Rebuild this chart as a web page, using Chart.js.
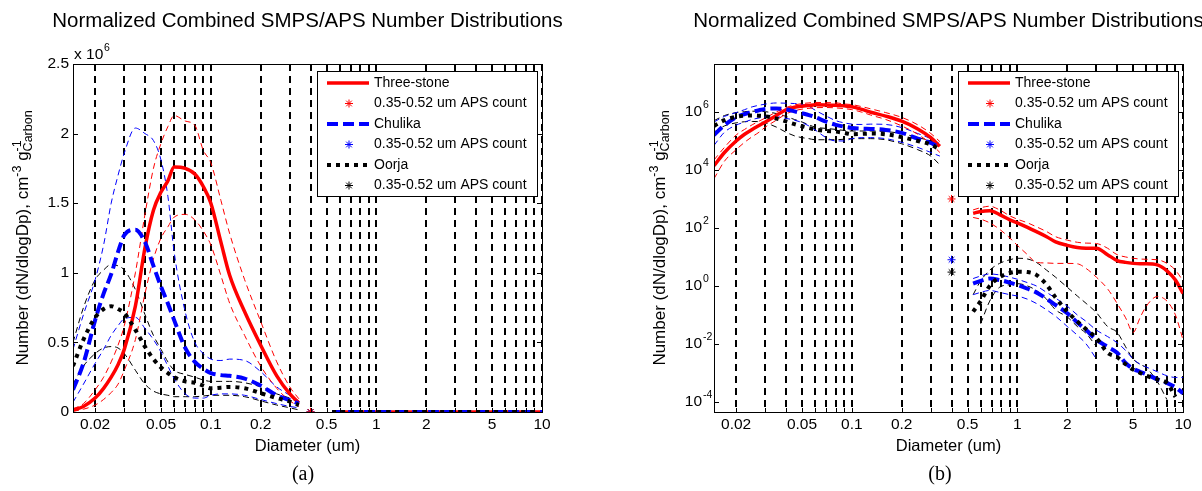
<!DOCTYPE html>
<html>
<head>
<meta charset="utf-8">
<script src="https://cdn.jsdelivr.net/npm/chart.js@4.4.1/dist/chart.umd.min.js"></script>
<style>
  html, body { margin: 0; padding: 0; background: #fff; }
  #wrap { position: relative; width: 1202px; height: 491px; }
  canvas { position: absolute; top: 0; }
</style>
</head>
<body>
<div id="wrap">
  <canvas id="panel-a" width="601" height="491" style="left:0"></canvas>
  <canvas id="panel-b" width="601" height="491" style="left:601px"></canvas>
</div>
<script>
// ---- data (diameters in um, counts in dN/dlogDp per g carbon) ----
const smpsDiam = [0.0147, 0.017, 0.02, 0.0225, 0.025, 0.0275, 0.03, 0.035, 0.04, 0.045, 0.05, 0.055,
                  0.06, 0.07, 0.08, 0.09, 0.1, 0.115, 0.13, 0.16, 0.2, 0.25, 0.3, 0.34];
const apsDiam = [0.54, 0.6, 0.68, 0.78, 0.9, 1.0, 1.15, 1.3, 1.5, 1.7, 2.0, 2.3,
                 2.6, 3.0, 3.5, 4.0, 4.5, 5.0, 5.5, 6.0, 7.0, 8.0, 9.0, 10];

// Three-stone
const threeStoneSmps   = [0.014e6, 0.04e6, 0.10e6, 0.17e6, 0.25e6, 0.34e6, 0.45e6, 0.76e6, 1.18e6, 1.45e6, 1.58e6, 1.66e6,
                          1.76e6, 1.75e6, 1.71e6, 1.62e6, 1.50e6, 1.22e6, 0.98e6, 0.72e6, 0.48e6, 0.26e6, 0.13e6, 0.065e6];
const threeStoneSmpsHi = [0.022e6, 0.06e6, 0.16e6, 0.25e6, 0.36e6, 0.48e6, 0.62e6, 1.00e6, 1.42e6, 1.75e6, 1.93e6, 2.05e6,
                          2.13e6, 2.09e6, 2.06e6, 1.88e6, 1.79e6, 1.52e6, 1.28e6, 0.95e6, 0.65e6, 0.36e6, 0.18e6, 0.095e6];
const threeStoneSmpsLo = [0.005e6, 0.02e6, 0.05e6, 0.09e6, 0.14e6, 0.20e6, 0.30e6, 0.52e6, 0.85e6, 1.10e6, 1.25e6, 1.33e6,
                          1.40e6, 1.42e6, 1.38e6, 1.30e6, 1.20e6, 0.98e6, 0.78e6, 0.55e6, 0.33e6, 0.17e6, 0.08e6, 0.04e6];
const threeStoneAps    = [320, 370, 390, 290, 190, 150, 105, 75, 50, 33, 25, 21,
                          20, 20, 12, 7.5, 6.5, 6, 5.8, 5.8, 5.3, 3.3, 1.6, 0.55];
const threeStoneApsHi  = [420, 500, 560, 420, 260, 200, 150, 110, 75, 50, 38, 32,
                          30, 29, 20, 12, 10, 9, 8.5, 8.3, 8, 6, 3.5, 1.5];
const threeStoneApsLo  = [230, 200, 150, 90, 45, 25, 12, 6.5, 6.2, 6, 6, 5.8,
                          4, 2, 0.8, 0.25, 0.08, 0.025, 0.08, 0.2, 0.43, 0.3, 0.1, 0.014];

// Chulika
const chulikaSmps   = [0.16e6, 0.35e6, 0.66e6, 0.85e6, 0.99e6, 1.15e6, 1.27e6, 1.31e6, 1.22e6, 1.05e6, 0.90e6, 0.78e6,
                       0.66e6, 0.46e6, 0.36e6, 0.31e6, 0.28e6, 0.265e6, 0.26e6, 0.24e6, 0.19e6, 0.12e6, 0.085e6, 0.06e6];
const chulikaSmpsHi = [0.45e6, 0.70e6, 0.95e6, 1.20e6, 1.50e6, 1.70e6, 1.86e6, 2.04e6, 2.00e6, 1.95e6, 1.81e6, 1.55e6,
                       1.15e6, 0.72e6, 0.50e6, 0.42e6, 0.38e6, 0.37e6, 0.38e6, 0.37e6, 0.29e6, 0.18e6, 0.12e6, 0.08e6];
const chulikaSmpsLo = [0.07e6, 0.20e6, 0.35e6, 0.45e6, 0.55e6, 0.62e6, 0.67e6, 0.68e6, 0.60e6, 0.52e6, 0.43e6, 0.33e6,
                       0.24e6, 0.13e6, 0.10e6, 0.10e6, 0.12e6, 0.13e6, 0.13e6, 0.12e6, 0.09e6, 0.06e6, 0.04e6, 0.03e6];
const chulikaAps    = [1.2, 1.5, 1.8, 1.6, 1.3, 1.08, 0.8, 0.6, 0.36, 0.22, 0.115, 0.055,
                       0.03, 0.014, 0.008, 0.005, 0.0022, 0.0014, 0.0011, 0.0009, 0.0006, 0.00045, 0.00032, 0.0002];
const chulikaApsHi  = [1.8, 2.2, 2.6, 2.4, 2.0, 1.7, 1.3, 1.0, 0.6, 0.38, 0.2, 0.1,
                       0.06, 0.03, 0.018, 0.011, 0.006, 0.003, 0.002, 0.0016, 0.0011, 0.0008, 0.0007, 0.0007];
const chulikaApsLo  = [0.5, 0.6, 0.7, 0.6, 0.5, 0.45, 0.35, 0.25, 0.15, 0.09, 0.04, 0.02,
                       0.01, 0.003, null, null, null, null, null, null, null, null, null, null];

// Oorja
const oorjaSmps   = [0.33e6, 0.52e6, 0.68e6, 0.74e6, 0.76e6, 0.74e6, 0.71e6, 0.59e6, 0.47e6, 0.38e6, 0.32e6, 0.28e6,
                     0.25e6, 0.22e6, 0.21e6, 0.19e6, 0.17e6, 0.175e6, 0.18e6, 0.17e6, 0.135e6, 0.10e6, 0.075e6, 0.05e6];
const oorjaSmpsHi = [0.50e6, 0.75e6, 0.95e6, 1.02e6, 1.06e6, 1.05e6, 1.02e6, 0.88e6, 0.70e6, 0.55e6, 0.45e6, 0.36e6,
                     0.30e6, 0.27e6, 0.25e6, 0.23e6, 0.22e6, 0.22e6, 0.22e6, 0.21e6, 0.18e6, 0.13e6, 0.10e6, 0.07e6];
const oorjaSmpsLo = [0.20e6, 0.33e6, 0.42e6, 0.46e6, 0.47e6, 0.46e6, 0.42e6, 0.30e6, 0.20e6, 0.15e6, 0.13e6, 0.12e6,
                     0.11e6, 0.11e6, 0.11e6, 0.115e6, 0.12e6, 0.12e6, 0.12e6, 0.11e6, 0.08e6, 0.05e6, 0.03e6, 0.015e6];
const oorjaAps    = [0.13, 0.3, 1.0, 2.0, 2.8, 3.1, 3.0, 2.4, 1.1, 0.4, 0.13, 0.06,
                     0.032, 0.016, 0.005, 0.0035, 0.002, 0.0013, 0.001, 0.0008, 0.0006, 0.00045, 0.00015, null];
const oorjaApsHi  = [0.5, 1.5, 3.5, 6, 8, 9, 8.5, 6.5, 3.5, 2, 0.9, 0.45,
                     0.25, 0.12, 0.04, 0.025, 0.008, 0.003, 0.002, 0.0015, 0.0005, 0.00012, null, null];
const oorjaApsLo  = [null, 0.05, 0.3, 0.9, 1.1, 1.2, 1.0, 0.7, 0.35, 0.15, 0.085, 0.04,
                     0.023, 0.008, null, null, null, null, null, null, null, null, null, null];

// 0.35-0.52 um APS channel counts
const apsCountDiam = 0.4;
const apsCounts = [1000, 8, 3];

const seriesNames = ['Three-stone', 'Chulika', 'Oorja'];
const apsCountLabel = '0.35-0.52 um APS count';

// axis ticks
const gridDiam = [0.02, 0.03, 0.04, 0.05, 0.06, 0.07, 0.08, 0.09, 0.1, 0.2, 0.3, 0.4, 0.5, 0.6, 0.7, 0.8, 0.9,
                  1, 2, 3, 4, 5, 6, 7, 8, 9, 10];
const diamLabels = [0.02, 0.05, 0.1, 0.2, 0.5, 1, 2, 5, 10];
const linTicks = [0, 0.5e6, 1e6, 1.5e6, 2e6, 2.5e6];
const linLabels = ['0', '0.5', '1', '1.5', '2', '2.5'];
const logTicks = [1e-4, 1e-2, 1, 1e2, 1e4, 1e6];
const logExps = ['-4', '-2', '0', '2', '4', '6'];

// ---- styles ----
const SANS = "'Liberation Sans', Arial, Helvetica, sans-serif";
const SERIF = "'Liberation Serif', 'Times New Roman', serif";
Chart.defaults.font.family = SANS;

const styles = [
  { color: '#ff0000', width: 3.5, dash: [] },
  { color: '#0000ff', width: 4, dash: [11, 5] },
  { color: '#000000', width: 4, dash: [4, 5] }
];
const boundDash = [6, 4];

function joinRanges(smps, aps) {
  const pts = smpsDiam.map((d, i) => ({ x: d, y: smps[i] }));
  pts.push({ x: 0.45, y: null });
  apsDiam.forEach((d, i) => pts.push({ x: d, y: aps[i] }));
  return pts;
}

const seriesData = [
  { mean: joinRanges(threeStoneSmps, threeStoneAps), hi: joinRanges(threeStoneSmpsHi, threeStoneApsHi), lo: joinRanges(threeStoneSmpsLo, threeStoneApsLo) },
  { mean: joinRanges(chulikaSmps, chulikaAps), hi: joinRanges(chulikaSmpsHi, chulikaApsHi), lo: joinRanges(chulikaSmpsLo, chulikaApsLo) },
  { mean: joinRanges(oorjaSmps, oorjaAps), hi: joinRanges(oorjaSmpsHi, oorjaApsHi), lo: joinRanges(oorjaSmpsLo, oorjaApsLo) }
];

function buildDatasets() {
  const sets = [];
  seriesData.forEach((s, i) => {
    const st = styles[i];
    sets.push({ label: seriesNames[i], data: s.mean, borderColor: st.color, borderWidth: st.width,
                borderDash: st.dash, order: 3 - i, cubicInterpolationMode: 'monotone' });
    [s.hi, s.lo].forEach(b => sets.push({ data: b, borderColor: st.color, borderWidth: 1,
                borderDash: boundDash, order: 4, cubicInterpolationMode: 'monotone' }));
    sets.push({ label: apsCountLabel, data: [{ x: apsCountDiam, y: apsCounts[i] }], showLine: false,
                pointStyle: 'star', pointRadius: 4, pointBorderWidth: 1, pointBorderColor: st.color,
                pointBackgroundColor: st.color, order: 0 });
  });
  return sets;
}

// ---- decorations drawn on top: box, ticks, labels, legend ----
function drawRich(ctx, parts, cx, cy) {
  // parts: [text, size, dy, sameStart]
  let x = 0, start = 0, maxEnd = 0;
  const placed = parts.map(([t, size, dy, same]) => {
    ctx.font = size + 'px ' + SANS;
    const w = ctx.measureText(t).width;
    if (same) x = start; else start = x;
    const p = { t, size, dy, x };
    x += w; maxEnd = Math.max(maxEnd, x); x = maxEnd;
    return p;
  });
  ctx.save();
  ctx.translate(cx, cy);
  ctx.rotate(-Math.PI / 2);
  ctx.textBaseline = 'alphabetic';
  ctx.textAlign = 'left';
  placed.forEach(p => {
    ctx.font = p.size + 'px ' + SANS;
    ctx.fillText(p.t, p.x - maxEnd / 2, 6 + p.dy);
  });
  ctx.restore();
}

function drawLegend(ctx, right, top) {
  const w = 220, h = 125, left = right - w;
  ctx.save();
  ctx.fillStyle = '#fff';
  ctx.fillRect(left, top, w, h);
  ctx.strokeStyle = '#000';
  ctx.lineWidth = 1;
  ctx.setLineDash([]);
  ctx.strokeRect(Math.round(left) + 0.5, Math.round(top) + 0.5, w, h);
  ctx.font = '14px ' + SANS;
  ctx.textBaseline = 'middle';
  ctx.textAlign = 'left';
  seriesNames.forEach((name, i) => {
    const st = styles[i];
    const y1 = top + 12 + i * 41, y2 = y1 + 20.5;
    ctx.beginPath();
    ctx.strokeStyle = st.color;
    ctx.lineWidth = st.width;
    ctx.setLineDash(st.dash);
    ctx.moveTo(left + 10, y1);
    ctx.lineTo(left + 52, y1);
    ctx.stroke();
    ctx.setLineDash([]);
    ctx.lineWidth = 1;
    ctx.fillStyle = st.color;
    Chart.helpers.drawPoint(ctx, { pointStyle: 'star', radius: 4, borderWidth: 1, rotation: 0 }, left + 32, y2);
    ctx.fillStyle = '#000';
    ctx.fillText(name, left + 57, y1);
    ctx.fillText(apsCountLabel, left + 57, y2);
  });
  ctx.restore();
}

const panelDecor = {
  id: 'panelDecor',
  afterDraw(chart, args, opts) {
    const { ctx, chartArea: a, scales: { x, y } } = chart;
    ctx.save();
    ctx.setLineDash([]);
    ctx.strokeStyle = '#000';
    ctx.fillStyle = '#000';
    ctx.lineWidth = 1;

    // ticks
    ctx.beginPath();
    gridDiam.forEach(v => {
      const px = Math.round(x.getPixelForValue(v)) + 0.5;
      ctx.moveTo(px, a.top); ctx.lineTo(px, a.top + 4);
      ctx.moveTo(px, a.bottom); ctx.lineTo(px, a.bottom - 4);
    });
    opts.yTicks.forEach(v => {
      const py = Math.round(y.getPixelForValue(v)) + 0.5;
      ctx.moveTo(a.left, py); ctx.lineTo(a.left + 5, py);
      ctx.moveTo(a.right, py); ctx.lineTo(a.right - 5, py);
    });
    ctx.stroke();

    // box
    ctx.strokeRect(Math.round(a.left) + 0.5, Math.round(a.top) + 0.5, Math.round(a.width), Math.round(a.height));

    // x tick labels
    ctx.font = '15.5px ' + SANS;
    ctx.textAlign = 'center';
    ctx.textBaseline = 'middle';
    diamLabels.forEach(v => ctx.fillText(String(v), x.getPixelForValue(v), a.bottom + 13));

    // y tick labels
    if (opts.logY) {
      opts.yTicks.forEach((v, i) => {
        const py = y.getPixelForValue(v);
        ctx.font = '15.5px ' + SANS;
        ctx.textAlign = 'right';
        ctx.fillText('10', a.left - 12, py);
        ctx.font = '10.5px ' + SANS;
        ctx.textAlign = 'left';
        ctx.fillText(logExps[i], a.left - 11, py - 7);
      });
    } else {
      ctx.font = '15.5px ' + SANS;
      ctx.textAlign = 'right';
      opts.yTicks.forEach((v, i) => ctx.fillText(linLabels[i], a.left - 4, y.getPixelForValue(v)));
      ctx.textAlign = 'left';
      ctx.textBaseline = 'alphabetic';
      ctx.fillText('x 10', a.left + 1, 59);
      ctx.font = '10.5px ' + SANS;
      ctx.fillText('6', a.left + 31, 51);
    }

    // titles
    const cx = (a.left + a.right) / 2;
    ctx.textAlign = 'center';
    ctx.textBaseline = 'middle';
    ctx.font = '20.5px ' + SANS;
    ctx.fillText('Normalized Combined SMPS/APS Number Distributions', cx, 21);
    ctx.font = '16.5px ' + SANS;
    ctx.fillText('Diameter (um)', cx, 446);
    ctx.font = '20px ' + SERIF;
    ctx.fillText(opts.caption, opts.captionX, 475);
    drawRich(ctx, [
      ['Number (dN/dlogDp), cm', 17, 0],
      ['-3', 12.5, -7.5],
      [' g', 17, 0],
      ['-1', 12.5, -7.5],
      ['Carbon', 12.5, 4, true]
    ], opts.yTitleX, (a.top + a.bottom) / 2);
    ctx.restore();

    drawLegend(ctx, a.right - 5, a.top + 7);
  }
};

function makePanel(canvasId, yScale, pad, decor) {
  return new Chart(document.getElementById(canvasId), {
    type: 'line',
    data: { datasets: buildDatasets() },
    options: {
      responsive: false,
      animation: false,
      devicePixelRatio: 1,
      layout: { padding: pad },
      elements: { point: { radius: 0 }, line: { tension: 0 } },
      plugins: { legend: { display: false }, tooltip: { enabled: false }, title: { display: false }, panelDecor: decor },
      scales: {
        x: {
          type: 'logarithmic', min: 0.0147, max: 10, position: 'bottom',
          afterBuildTicks: s => { s.ticks = gridDiam.map(v => ({ value: v })); },
          ticks: { display: false, autoSkip: false },
          grid: { color: '#000', lineWidth: 2, drawTicks: false },
          border: { display: false, dash: [7, 5] }
        },
        y: Object.assign({
          grid: { display: false, drawTicks: false },
          ticks: { display: false },
          border: { display: false }
        }, yScale)
      }
    },
    plugins: [panelDecor]
  });
}

makePanel('panel-a', { type: 'linear', min: 0, max: 2.5e6 },
  { left: 73, right: 59, top: 64, bottom: 79 },
  { yTicks: linTicks, logY: false, caption: '(a)', captionX: 303, yTitleX: 22 });

makePanel('panel-b', { type: 'logarithmic', min: 4.5e-5, max: 4.5e7 },
  { left: 113, right: 19, top: 64, bottom: 79 },
  { yTicks: logTicks, logY: true, caption: '(b)', captionX: 339, yTitleX: 58 });
</script>
</body>
</html>
